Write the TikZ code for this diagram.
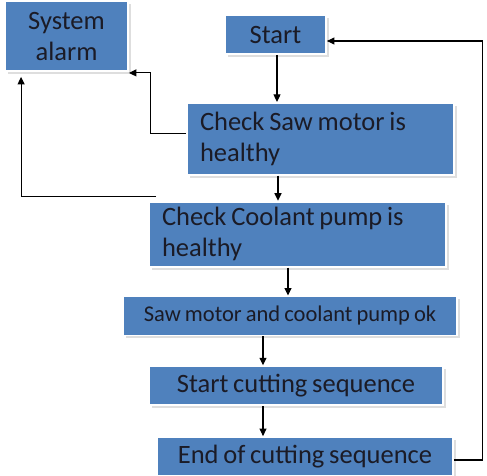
\documentclass[tikz,border=0pt]{standalone}
\usepackage{fontspec}
\setmainfont{Carlito}[WordSpace=0.8]
\usepackage{tikz}
\usetikzlibrary{arrows.meta, positioning, shadows}
\definecolor{boxblue}{HTML}{4F81BD}
\definecolor{boxtext}{HTML}{1B1B26}
\definecolor{shade}{HTML}{BDBDBD}
\tikzset{
  flowbox/.style={
    rectangle, fill=boxblue, draw=white, line width=1.8pt,
    drop shadow={shadow xshift=2.5pt, shadow yshift=-3pt, fill=shade},
    inner xsep=13pt, inner ysep=3pt,
    text=boxtext, font=\fontsize{26.5}{31}\selectfont,
  },
  single/.style={flowbox, align=center, minimum height=39pt},
  double/.style={flowbox, align=flush left},
  arrow/.style={-{Triangle[length=7.5pt, width=7pt]}, line width=1.1pt, black},
}
\begin{document}
\begin{tikzpicture}[x=1pt, y=1pt, node distance=28pt]
  \useasboundingbox (0,0) rectangle (487,475);

  \node[flowbox, align=center, minimum width=123pt, minimum height=70pt] (alarm) at (66.5,439) {System\\alarm};
  \node[single, minimum width=101pt] (start) at (275.5,440.5) {Start};
  \node[double, text width=241pt, minimum height=72pt, below=47pt of start, xshift=45pt] (sawchk) {Check Saw motor is\\healthy};
  \node[double, text width=271pt, minimum height=65pt, below=25pt of sawchk, xshift=-23pt] (coolant) {Check Coolant pump is\\healthy};
  \node[single, minimum width=334pt, font=\fontsize{22.5}{27}\selectfont, below=28pt of coolant, xshift=-7.5pt] (pumpok) {Saw motor and coolant pump ok};
  \node[single, minimum width=294pt, below=29pt of pumpok, xshift=6pt] (startcut) {Start cutting sequence};
  \node[single, minimum width=296pt, below=30pt of startcut, xshift=9pt] (endcut) {End of cutting sequence};

  \draw[arrow] ([xshift=1.5pt]start.south) -- ([xshift=1.5pt]start.south |- sawchk.north);
  \draw[arrow] ([xshift=-42.5pt]sawchk.south) -- ([xshift=-42.5pt]sawchk.south |- coolant.north);
  \draw[arrow] ([xshift=-9.5pt]coolant.south) -- ([xshift=-9.5pt]coolant.south |- pumpok.north);
  \draw[arrow] ([xshift=-27pt]pumpok.south) -- ([xshift=-27pt]pumpok.south |- startcut.north);
  \draw[arrow] ([xshift=-33pt]startcut.south) -- ([xshift=-33pt]startcut.south |- endcut.north);

  % failures go to the alarm
  \draw[arrow] ([yshift=5pt]sawchk.west) -- ++(-36,0) |- ([yshift=-1pt]alarm.south east);
  \draw[arrow] ([shift={(8pt,4pt)}]coolant.north west) -| ([shift={(17pt,-5pt)}]alarm.south west);

  % back to start
  \draw[arrow] ([yshift=-3.5pt]endcut.east) -- ++(29,0) |- ([yshift=-6.5pt]start.east);

\end{tikzpicture}
\end{document}
